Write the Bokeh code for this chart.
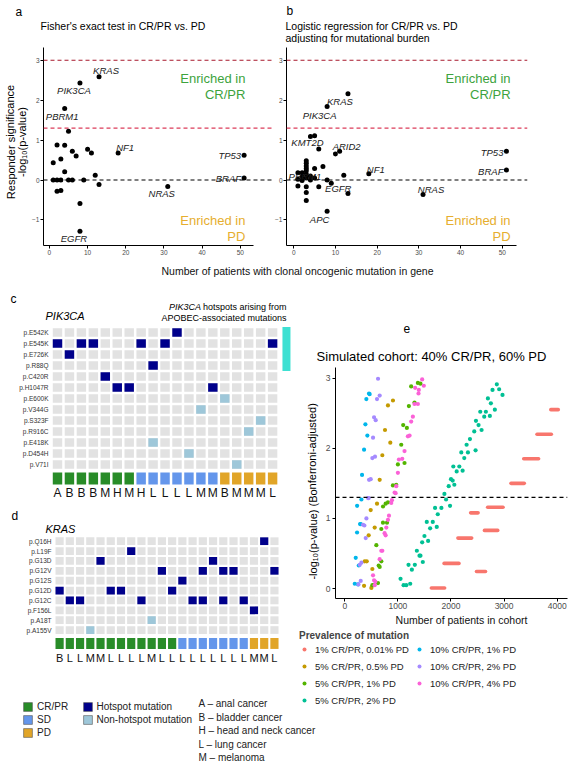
from bokeh.plotting import figure
from bokeh.models import (Range1d, Span, Label, FixedTicker, Legend, LegendItem,
                          ColumnDataSource)
from bokeh.layouts import row, column
from bokeh.embed import file_html
from bokeh.resources import INLINE
from bokeh.core.properties import value

FONT = "Liberation Sans"
NAN = float("nan")

# ======================= DATA =======================
# Panel a: Fisher's exact test
a_patients = [13, 8, 4, 5, 2, 4, 1, 3, 6, 7, 10, 11, 18, 4, 12,
              1, 2, 3, 5, 6, 9, 2, 3, 13, 31, 8, 8, 51, 51]
a_signif = [2.59, 2.43, 1.79, 1.22, 0.88, 0.87, 0.43, 0.53, 0.72, 0.60, 0.77, 0.68, 0.68, 0.21, 0.12,
            0.0, 0.0, 0.0, 0.0, 0.0, 0.0, -0.28, -0.26, -0.11, -0.16, -0.59, -1.28, 0.62, 0.05]
a_gene = ["KRAS", "PIK3CA", "PBRM1", "", "", "", "", "", "", "", "", "", "NF1", "", "",
          "", "", "", "", "", "", "", "", "", "NRAS", "", "EGFR", "TP53", "BRAF"]

# Panel b: logistic regression
b_patients = [13, 8, 4, 5, 6, 10, 11, 51, 51, 18, 12, 7, 9, 8, 13, 31, 8, 4, 1, 1,
              1, 2, 2, 2, 3, 3, 3, 3, 3, 3, 3, 3, 3, 3, 4, 5, 5, 6]
b_signif = [2.16, 1.84, 1.09, 1.11, 0.78, 0.65, 0.72, 0.72, 0.25, 0.16, 0.12, 0.34, -0.08, 0.0, -0.34,
            -0.36, -0.78, 0.10, 0.18, 0.02, -0.15, 0.18, 0.08, -0.01, 0.48, 0.42, 0.35, 0.29, 0.23,
            0.15, 0.05, -0.17, -0.31, -0.51, 0.0, 0.29, 0.05, -0.17]
b_gene = ["KRAS", "PIK3CA", "KMT2D", "", "", "", "ARID2", "TP53", "BRAF", "NF1", "", "", "EGFR", "", "",
          "NRAS", "APC", "PBRM1"] + [""] * 20

# Panel c: PIK3CA
pik_rows = ["p.E542K", "p.E545K", "p.E726K", "p.R88Q", "p.C420R", "p.H1047R", "p.E600K",
            "p.V344G", "p.S323F", "p.R916C", "p.E418K", "p.D454H", "p.V71I"]
pik_cancer = ["A", "B", "B", "B", "M", "H", "M", "H", "L", "L", "L", "L", "M", "M", "B", "M", "M", "M", "L"]
pik_response = ["CR/PR"] * 7 + ["SD"] * 7 + ["PD"] * 5
pik_mut = ["p.E542K", "p.E545K", "p.E545K", "p.E545K", "p.E545K", "p.E545K", "p.E545K", "p.E726K",
           "p.R88Q", "p.C420R", "p.H1047R", "p.H1047R", "p.H1047R", "p.E600K", "p.V344G", "p.S323F",
           "p.R916C", "p.E418K", "p.D454H", "p.V71I"]
pik_mut_patient = [10, 0, 2, 3, 7, 9, 18, 1, 8, 4, 5, 6, 13, 14, 12, 17, 16, 8, 11, 15]
pik_mut_hotspot = [True] * 13 + [False] * 7
apobec_rows = ["p.E542K", "p.E545K", "p.E726K", "p.R88Q"]

# Panel d: KRAS
kras_rows = ["p.Q16H", "p.L19F", "p.G13D", "p.G12V", "p.G12S", "p.G12D", "p.G12C", "p.F156L",
             "p.A18T", "p.A155V"]
kras_cancer = ["B", "L", "L", "M", "M", "L", "L", "L", "L", "M", "L", "L",
               "L", "L", "L", "L", "L", "L", "L", "M", "M", "L"]
kras_response = ["CR/PR"] * 12 + ["SD"] * 7 + ["PD"] * 3
kras_mut = ["p.Q16H", "p.L19F", "p.G13D", "p.G13D", "p.G12V", "p.G12V", "p.G12V", "p.G12V", "p.G12V",
            "p.G12S", "p.G12D", "p.G12D", "p.G12D", "p.G12D", "p.G12C", "p.G12C", "p.G12C", "p.G12C",
            "p.G12C", "p.G12C", "p.G12C", "p.F156L", "p.A18T", "p.A155V"]
kras_mut_patient = [20, 7, 4, 15, 10, 14, 16, 17, 21, 12, 0, 5, 6, 11, 1, 2, 8, 13, 14, 16, 18, 19, 9, 3]
kras_mut_hotspot = [True] * 22 + [False] * 2

# Panel e: simulated cohorts (cohort size, -log10 adjusted p)
e_labels = ["1% CR/PR, 0.01% PD", "5% CR/PR, 0.5% PD", "5% CR/PR, 1% PD", "5% CR/PR, 2% PD",
            "10% CR/PR, 1% PD", "10% CR/PR, 2% PD", "10% CR/PR, 4% PD"]
e_red_start = [1630, 2480, 1870, 2130, 2630, 2370, 2690, 3130, 3370, 3620, 3880]
e_red_end = [1880, 2650, 2150, 2390, 2880, 2510, 2980, 3380, 3650, 3890, 4020]
e_red_p = [0.01, 0.245, 0.36, 0.72, 0.83, 1.08, 1.16, 1.50, 1.85, 2.20, 2.55]
e_gold_n = [363, 500, 519, 375, 413, 450, 488, 563, 607, 657, 707, 757, 857, 813, 907]
e_gold_p = [0.04, 0.01, 0.28, 0.39, 0.39, 0.76, 1.12, 0.87, 1.21, 1.55, 1.90, 2.26, 2.08, 2.61, 2.68]
e_green_n = [519, 544, 625, 657, 638, 688, 594, 688, 719, 795, 720, 769, 813, 906, 969, 1000, 1125,
             1063, 1100, 1169, 1207, 1313, 1250, 1376, 1425]
e_green_p = [0.05, 0.05, 0.08, 0.31, 0.33, 0.39, 0.62, 0.85, 0.94, 0.94, 1.17, 1.21, 1.23, 1.47, 1.48,
             1.77, 1.79, 2.05, 2.33, 2.29, 2.60, 2.65, 2.88, 2.93, 2.92]
e_teal_n = [1050, 1107, 1157, 1232, 1200, 1263, 1319, 1357, 1407, 1425, 1469, 1457, 1500, 1569, 1544,
            1607, 1657, 1732, 1700, 1751, 1819, 1876, 1907, 1982, 1957, 2032, 2000, 2063, 2044, 2107,
            2157, 2219, 2194, 2250, 2319, 2294, 2357, 2463, 2438, 2470, 2519, 2576, 2551, 2626, 2657,
            2732, 2695, 2751, 2826, 2782, 2863, 2907, 2970]
e_teal_p = [0.14, 0.05, 0.05, 0.07, 0.34, 0.27, 0.34, 0.54, 0.47, 0.47, 0.38, 0.66, 0.75, 0.68, 0.95,
            0.86, 0.95, 0.88, 1.15, 1.06, 1.15, 1.35, 1.27, 1.18, 1.46, 1.54, 1.56, 1.48, 1.74, 1.67,
            1.74, 1.68, 1.94, 1.86, 1.94, 2.05, 2.13, 1.97, 2.24, 2.39, 2.33, 2.26, 2.52, 2.45, 2.52,
            2.46, 2.71, 2.64, 2.55, 2.83, 2.91, 2.84, 2.76]
e_blue_n = [188, 250, 206, 263, 231, 288, 300, 232, 313, 325, 363, 388, 425, 406, 456, 468]
e_blue_p = [0.07, 0.06, 0.44, 0.33, 0.80, 0.92, 0.92, 1.18, 1.27, 1.62, 1.98, 2.34, 2.18, 2.70, 2.78, 2.77]
e_purple_n = [257, 300, 282, 313, 394, 344, 369, 407, 438, 451, 457, 488, 519, 569, 532, 551, 582,
              607, 657, 626]
e_purple_p = [0.06, 0.11, 0.34, 0.37, 0.72, 0.91, 0.90, 1.00, 1.29, 1.29, 1.55, 1.56, 1.86, 1.88, 2.15,
              2.44, 2.40, 2.70, 2.75, 2.99]
e_pink_n = [532, 551, 563, 575, 657, 688, 707, 750, 769, 782, 813, 832, 875, 888, 938, 957, 969, 1000,
            1019, 1082, 1125, 1188, 1220, 1250, 1282, 1313, 1376, 1394, 1325, 1388, 1488, 1457]
e_pink_p = [0.19, 0.12, 0.05, 0.10, 0.42, 0.54, 0.54, 0.79, 0.76, 0.87, 0.98, 1.04, 1.22, 1.26, 1.37,
            1.36, 1.46, 1.65, 1.84, 1.85, 1.96, 2.17, 2.18, 2.38, 2.45, 2.63, 2.63, 2.83, 2.86, 2.78,
            2.89, 2.98]

response_order = ["CR/PR", "SD", "PD"]
mutation_kinds = ["Hotspot mutation", "Non-hotspot mutation"]
cancer_key = ["A \u2013 anal cancer", "B \u2013 bladder cancer", "H \u2013 head and neck cancer",
              "L \u2013 lung cancer", "M \u2013 melanoma"]

# ======================= STYLE =======================
GREY = "#e2e2e2"
NAVY = "#00008b"
LIGHT = "#9ec7d9"
RESP_COL = {"CR/PR": "#288c28", "SD": "#6496eb", "PD": "#e1a528"}
E_COLORS = ["#F8766D", "#C49A00", "#53B400", "#00C094", "#00B6EB", "#A58AFF", "#FB61D7"]
TICK_GREY = "#4d4d4d"
GREEN_TXT = "#3da33d"
ORANGE_TXT = "#e6ae2e"


def make_fig(g):
    ox, oy = g["origin"]
    p = figure(width=g["w"], height=g["h"], x_range=Range1d(*g["xr"]), y_range=Range1d(*g["yr"]),
               output_backend="svg", toolbar_location=None, title=None,
               min_border_left=g["fl"] - ox, min_border_right=ox + g["w"] - g["fr"],
               min_border_top=g["ft"] - oy, min_border_bottom=oy + g["h"] - g["fb"])
    p.xgrid.visible = False
    p.ygrid.visible = False
    p.outline_line_color = None
    p.background_fill_color = "white"
    p.border_fill_color = "white"
    return p


def make_plain(g):
    p = figure(width=g["w"], height=g["h"], x_range=Range1d(*g["xr"]), y_range=Range1d(*g["yr"]),
               output_backend="svg", toolbar_location=None, title=None,
               x_axis_location=None, y_axis_location=None, min_border=0)
    p.grid.visible = False
    p.outline_line_color = None
    p.background_fill_color = "white"
    p.border_fill_color = "white"
    return p


def strip_geom(ox, oy, w, h):
    return dict(origin=(ox, oy), w=w, h=h, fl=ox, fr=ox + w, ft=oy, fb=oy + h,
                xr=(ox, ox + w), yr=(oy + h, oy))


def heat_geom(ox, oy, w, h, x0, px, y0, py):
    return dict(origin=(ox, oy), w=w, h=h, fl=ox, fr=ox + w, ft=oy, fb=oy + h,
                xr=((ox - x0) / px, (ox + w - x0) / px), yr=((oy + h - y0) / py, (oy - y0) / py))


def to_data(g, px, py):
    x0, x1 = g["xr"]
    y0, y1 = g["yr"]
    x = x0 + (px - g["fl"]) * (x1 - x0) / (g["fr"] - g["fl"])
    y = y0 + (g["fb"] - py) * (y1 - y0) / (g["fb"] - g["ft"])
    return x, y


def label(p, g, px, py, text, size, color="#000000", align="left", style="normal", angle=0.0):
    x, y = to_data(g, px, py)
    p.add_layout(Label(x=x, y=y, text=text, text_font=FONT, text_font_size=f"{size}px",
                       text_color=color, text_align=align, text_baseline="middle",
                       text_font_style=style, angle=angle))


def style_axes(p, size):
    for ax in (p.xaxis[0], p.yaxis[0]):
        ax.axis_line_color = "black"
        ax.axis_line_width = 1
        ax.major_tick_line_color = "black"
        ax.major_tick_out = 3
        ax.major_tick_in = 0
        ax.minor_tick_line_color = None
        ax.major_label_text_font = FONT
        ax.major_label_text_font_size = f"{size}px"
        ax.major_label_text_color = TICK_GREY
        ax.major_label_standoff = 2


def legend(items, loc, **kw):
    opts = dict(padding=0, margin=0, border_line_color=None, background_fill_alpha=0,
                label_text_font=FONT, label_text_font_size="10px", label_text_color="#222222",
                orientation="vertical")
    opts.update(kw)
    return Legend(items=items, location=loc, **opts)


# ---------------- geometry (page px, content starts at 0,0) ----------------
G_HEAD = strip_geom(0, 0, 571, 43)
G_AYL = strip_geom(0, 43, 29, 220)
GA = dict(origin=(29, 43), w=243, h=220, fl=40, fr=272, ft=47, fb=245, xr=(-1.55, 58.44), yr=(-1.64, 3.32))
GB = dict(origin=(272, 43), w=299, h=220, fl=285, fr=527, ft=47, fb=245, xr=(-1.74, 56.05), yr=(-1.64, 3.32))
G_XL = strip_geom(0, 263, 571, 27)
GC = heat_geom(0, 290, 295, 215, 57.0, 11.95, 332.0, 11.0)
GD = heat_geom(0, 505, 295, 188, 59.1, 10.23, 540.7, 9.87)
G_ETOP = strip_geom(295, 290, 276, 75)
G_EYL = strip_geom(295, 365, 27, 248)
GE = dict(origin=(322, 365), w=249, h=248, fl=334, fr=567, ft=367, fb=598, xr=(-175, 4194), yr=(-0.14, 3.15))
G_EBOT = strip_geom(295, 613, 276, 80)
G_BOT = strip_geom(0, 693, 571, 71)

# ---------------- header strip ----------------
head = make_plain(G_HEAD)
label(head, G_HEAD, 15, 11, "a", 12)
label(head, G_HEAD, 40, 25, "Fisher's exact test in CR/PR vs. PD", 10.5)
label(head, G_HEAD, 286, 10, "b", 12)
label(head, G_HEAD, 285, 25, "Logistic regression for CR/PR vs. PD", 10.5)
label(head, G_HEAD, 285, 37.3, "adjusting for mutational burden", 10.5)

ayl = make_plain(G_AYL)
label(ayl, G_AYL, 10, 148, "Responder significance", 11, align="center", angle=1.5708)
label(ayl, G_AYL, 21.5, 148, "-log\u2081\u2080(p-value)", 11, align="center", angle=1.5708)


def scatter_panel(g, xs, ys, genes, lab_style, bounds, enr_x):
    p = make_fig(g)
    style_axes(p, 6.5)
    p.xaxis.ticker = FixedTicker(ticks=[0, 10, 20, 30, 40, 50])
    p.xaxis.bounds = bounds
    p.xaxis.major_label_standoff = 1
    p.yaxis.major_label_standoff = 1
    p.yaxis.ticker = FixedTicker(ticks=[-1, 0, 1, 2, 3])
    p.yaxis.major_label_overrides = {-1: "\u22121"}
    p.add_layout(Span(location=3, dimension="width", line_color="#a8182c", line_dash="4 3", line_width=1.1))
    p.add_layout(Span(location=1.3, dimension="width", line_color="#dc3d5a", line_dash="4 3", line_width=1.1))
    p.add_layout(Span(location=0, dimension="width", line_color="#000000", line_dash="4 3", line_width=1.1))
    p.scatter(xs, ys, size=5, fill_color="black", line_color=None)
    for align in ("center", "right"):
        sel = [i for i, gname in enumerate(genes) if gname and lab_style[gname][2] == align]
        src = ColumnDataSource(dict(x=[xs[i] for i in sel], y=[ys[i] for i in sel],
                                    t=[genes[i] for i in sel],
                                    dx=[lab_style[genes[i]][0] for i in sel],
                                    dy=[lab_style[genes[i]][1] for i in sel]))
        p.text(x="x", y="y", text="t", x_offset="dx", y_offset="dy", source=src,
               text_font=value(FONT), text_font_style="italic", text_font_size="9.5px",
               text_align=align, text_baseline="middle", text_color="#1a1a1a")
    for txt, py, col in (("Enriched in", 78, GREEN_TXT), ("CR/PR", 93.5, GREEN_TXT),
                         ("Enriched in", 220, ORANGE_TXT), ("PD", 236, ORANGE_TXT)):
        label(p, g, enr_x, py, txt, 13, color=col, align="right")
    return p


a_style = {"KRAS": (7, -6, "center"), "PIK3CA": (-6, 7.5, "center"), "PBRM1": (-2.5, 7.5, "center"),
           "NF1": (7, -5.5, "center"), "TP53": (-3, 0.5, "right"), "BRAF": (-3, 0, "right"),
           "NRAS": (-6, 7, "center"), "EGFR": (-6, 7, "center")}
pa = scatter_panel(GA, a_patients, a_signif, a_gene, a_style, (-1.55, 53.4), 244.5)

b_style = {"KRAS": (-8, 7.5, "center"), "PIK3CA": (-7.5, 8.5, "center"), "KMT2D": (-3, 6, "center"),
           "ARID2": (7, -5, "center"), "NF1": (7, -4.5, "center"), "TP53": (-3, 1, "right"),
           "BRAF": (-3, 1, "right"), "EGFR": (7, 5, "center"), "NRAS": (8, -5, "center"),
           "APC": (-7.5, 8, "center"), "PBRM1": (-5.5, 0.7, "center")}
pb = scatter_panel(GB, b_patients, b_signif, b_gene, b_style, (-1.74, 53.4), 510)

xl = make_plain(G_XL)
label(xl, G_XL, 297, 270, "Number of patients with clonal oncogenic mutation in gene", 10.5, color="#111111",
      align="center")


# ---------------- heatmap panels ----------------
def heatmap(g, rows, cancer, response, mut, mut_patient, mut_hot, cw, ch, resp_y, resp_h,
            letter_size, letter_dy):
    p = make_plain(g)
    gx = [c for r in range(len(rows)) for c in range(len(cancer))]
    gy = [r for r in range(len(rows)) for c in range(len(cancer))]
    p.rect(gx, gy, width=cw, height=ch, fill_color=GREY, line_color=None)
    msrc = ColumnDataSource(dict(x=mut_patient, y=[rows.index(m) for m in mut],
                                 c=[NAVY if h else LIGHT for h in mut_hot]))
    p.rect("x", "y", width=cw, height=ch, fill_color="c", line_color=None, source=msrc)
    rsrc = ColumnDataSource(dict(x=list(range(len(response))), y=[resp_y] * len(response),
                                 c=[RESP_COL[r] for r in response], t=cancer))
    p.rect("x", "y", width=cw, height=resp_h, fill_color="c", line_color=None, source=rsrc)
    p.text(x=[-0.5] * len(rows), y=list(range(len(rows))), text=rows, x_offset=-3,
           text_font=value(FONT), text_font_size="6.5px", text_color="#333333",
           text_align="right", text_baseline="middle")
    p.text(x="x", y="y", text="t", y_offset=letter_dy, source=rsrc,
           text_font=value(FONT), text_font_size=f"{letter_size}px", text_color="#111111",
           text_align="center", text_baseline="middle")
    return p


pc = heatmap(GC, pik_rows, pik_cancer, pik_response, pik_mut, pik_mut_patient, pik_mut_hotspot,
             0.79, 0.76, 13.27, 1.09, 12, 15)
ab = [pik_rows.index(r) for r in apobec_rows]
pc.rect(x=[19.16], y=[(min(ab) + max(ab)) / 2], width=0.67, height=len(ab), fill_color="#3ee0d2",
        line_color=None)
label(pc, GC, 10, 298, "c", 12)
label(pc, GC, 45, 315, "PIK3CA", 11, style="italic")
label(pc, GC, 200.5, 306.7, "PIK3CA", 9, align="right", style="italic")
label(pc, GC, 286, 306.7, "hotspots arising from", 9, align="right")
label(pc, GC, 286, 317.5, "APOBEC-associated mutations", 9, align="right")

pdk = heatmap(GD, kras_rows, kras_cancer, kras_response, kras_mut, kras_mut_patient,
              kras_mut_hotspot, 0.80, 0.78, 10.36, 1.11, 11, 14.5)
label(pdk, GD, 11, 515, "d", 12)
label(pdk, GD, 45, 528, "KRAS", 11, style="italic")

# ---------------- panel e ----------------
etop = make_plain(G_ETOP)
label(etop, G_ETOP, 403, 328, "e", 12)
label(etop, G_ETOP, 431, 356, "Simulated cohort: 40% CR/PR, 60% PD", 13, align="center")

eyl = make_plain(G_EYL)
label(eyl, G_EYL, 312, 498, "-log\u2081\u2080(p-value) (Bonferroni-adjusted)", 11, align="center",
      angle=1.5708)

pe = make_fig(GE)
style_axes(pe, 8.5)
pe.xaxis.major_label_standoff = 1
pe.xaxis.ticker = FixedTicker(ticks=[0, 1000, 2000, 3000, 4000])
pe.yaxis.ticker = FixedTicker(ticks=[0, 1, 2, 3])
pe.add_layout(Span(location=1.3, dimension="width", line_color="black", line_dash="4 3", line_width=1.1))
pe.segment(x0=e_red_start, y0=e_red_p, x1=e_red_end, y1=e_red_p, line_color=E_COLORS[0],
           line_width=3.6, line_cap="round")
for xs, ys, col in ((e_gold_n, e_gold_p, E_COLORS[1]), (e_green_n, e_green_p, E_COLORS[2]),
                    (e_teal_n, e_teal_p, E_COLORS[3]), (e_blue_n, e_blue_p, E_COLORS[4]),
                    (e_purple_n, e_purple_p, E_COLORS[5]), (e_pink_n, e_pink_p, E_COLORS[6])):
    pe.scatter(xs, ys, size=4.2, fill_color=col, line_color=None)

# legend keys (not drawn in the strips themselves: NaN positions)
ebot = make_plain(G_EBOT)
label(ebot, G_EBOT, 461, 619.5, "Number of patients in cohort", 10.5, color="#111111", align="center")
e_key_order = [0, 1, 2, 4, 5, 6]
e_keys = [ebot.scatter(x=[NAN], y=[NAN], size=4.2, fill_color=E_COLORS[i], line_color=None)
          for i in e_key_order]
ebot.add_layout(legend([LegendItem(label=e_labels[i], renderers=[r]) for i, r in zip(e_key_order, e_keys)],
                       (299 - 295, 693 - 689), nrows=3,
                       title="Prevalence of mutation", title_text_font=FONT, title_text_font_size="10px",
                       title_text_font_style="bold", title_standoff=2, label_text_font_size="9.5px",
                       glyph_width=10, glyph_height=10, label_height=12, spacing=5, label_standoff=6))

bot = make_plain(G_BOT)
teal_key = bot.scatter(x=[NAN], y=[NAN], size=4.2, fill_color=E_COLORS[3], line_color=None)
bot.add_layout(legend([LegendItem(label=e_labels[3], renderers=[teal_key])], (299, 764 - 706),
                      label_text_font_size="9.5px", glyph_width=10, glyph_height=10, label_height=12,
                      spacing=5, label_standoff=6))
resp_keys = [bot.rect(x=[NAN], y=[NAN], width=1, height=1, fill_color=RESP_COL[r], line_color="#555555",
                      line_width=0.6) for r in response_order]
bot.add_layout(legend([LegendItem(label=r, renderers=[k]) for r, k in zip(response_order, resp_keys)],
                      (22, 764 - 737.5), glyph_width=11, glyph_height=11, label_height=11, spacing=2,
                      label_standoff=4))
mut_keys = [bot.rect(x=[NAN], y=[NAN], width=1, height=1, fill_color=c, line_color="#555555",
                     line_width=0.6) for c in (NAVY, LIGHT)]
bot.add_layout(legend([LegendItem(label=m, renderers=[k]) for m, k in zip(mutation_kinds, mut_keys)],
                      (81.5, 764 - 724.5), glyph_width=11, glyph_height=11, label_height=11, spacing=2,
                      label_standoff=4))
for i, t in enumerate(cancer_key):
    label(bot, G_BOT, 198, 703 + 13.5 * i, t, 10, color="#222222")

layout = column(head,
                row(ayl, pa, pb),
                xl,
                row(column(pc, pdk), column(etop, row(eyl, pe), ebot)),
                bot)
open("out.html", "w").write(file_html(layout, INLINE))
